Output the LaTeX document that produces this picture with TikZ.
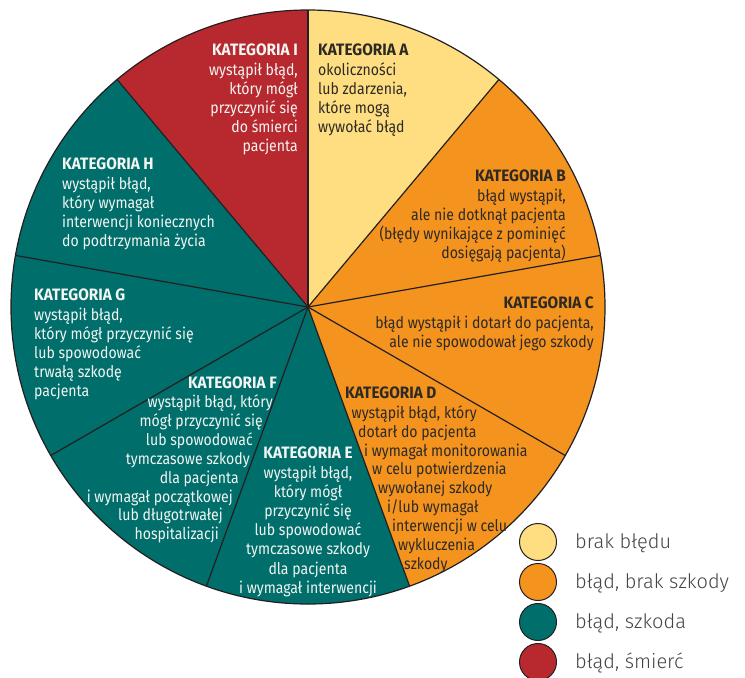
\documentclass[tikz,border=0pt]{standalone}
\usepackage{fontspec}
\setmainfont{Fira Sans}[FakeStretch=0.88]
\newfontfamily\hdfont{Fira Sans}[FakeStretch=0.93]
\newfontfamily\legendfont{Fira Sans Light}
\newcommand\hd[1]{{\hdfont\bfseries\fontsize{16.5}{19.2}\selectfont #1}}
\definecolor{catyel}{HTML}{FEDE80}
\definecolor{catora}{HTML}{F5931F}
\definecolor{cattea}{HTML}{006E6B}
\definecolor{catred}{HTML}{B8292F}
\definecolor{darktxt}{HTML}{2D2A26}
\definecolor{lighttxt}{HTML}{F2F5F2}
\definecolor{legtxt}{HTML}{444444}
\definecolor{rimcol}{HTML}{231F20}
\begin{document}
\begin{tikzpicture}[x=1pt,y=1pt,
  rim/.style={draw=rimcol,line width=1.2pt},
  spoke/.style={draw=rimcol,line width=1.2pt},
  body/.style={inner sep=0pt,font=\fontsize{16}{19.2}\selectfont},
  dk/.style={body,text=darktxt},
  lt/.style={body,text=lighttxt},
  legdot/.style={draw=rimcol,line width=1pt,circle,minimum size=37pt,inner sep=0pt},
  legtext/.style={inner sep=0pt,anchor=base west,text=legtxt,font=\legendfont\fontsize{20}{24}\selectfont}]
\useasboundingbox (0,0) rectangle (745,-678);
\coordinate (c) at (308,-307);
\foreach \a/\b/\col in {50/90/catyel,10/50/catora,-30/10/catora,-70/-30/catora,-110/-70/cattea,-150/-110/cattea,170/210/cattea,130/170/cattea,90/130/catred}
  \fill[\col] (c) -- ++(\a:297pt) arc[start angle=\a,end angle=\b,radius=297pt] -- cycle;
\foreach \a in {90,50,10,-30,-70,-110,-150,170,130}
  \draw[spoke] (c) -- ++(\a:297pt);
\draw[rim] (c) circle[radius=297pt];
% A
\node[dk,anchor=north west,align=left] (tA) at (318,-44) {\hd{KATEGORIA A}\\okoliczności\\lub zdarzenia,\\które mogą\\wywołać błąd};
% I
\node[lt,anchor=north east,align=right] (tI) at (298,-44) {\hd{KATEGORIA I}\\wystąpił błąd,\\który mógł\\przyczynić się\\do śmierci\\pacjenta};
% B
\node[dk,anchor=north east,align=right] (tB) at (566,-170) {\hd{KATEGORIA B}\\błąd wystąpił,\\ale nie dotknął pacjenta\hspace*{3pt}\\(błędy wynikające z pominięć\\dosięgają pacjenta)};
% C
\node[dk,anchor=north east,align=right] (tC) at (594,-297) {\hd{KATEGORIA C}\\błąd wystąpił i dotarł do pacjenta,\\ale nie spowodował jego szkody};
% H
\node[lt,anchor=north west,align=left] (tH) at (62,-158) {\hd{KATEGORIA H}\\wystąpił błąd,\\który wymagał\\interwencji koniecznych\\do podtrzymania życia};
% G
\node[lt,anchor=north west,align=left] (tG) at (34,-289) {\hd{KATEGORIA G}\\wystąpił błąd,\\który mógł przyczynić się\\lub spowodować\\trwałą szkodę\\pacjenta};
% E
\node[lt,anchor=north,align=center] (tE) at (308,-447) {\hd{KATEGORIA E}\\wystąpił błąd,\\który mógł\\przyczynić się\\lub spowodować\\tymczasowe szkody\\dla pacjenta\\i wymagał interwencji};
% D
\node[dk,anchor=base west] (tD0) at (345,-398.5) {\hd{KATEGORIA D}};
\node[dk,anchor=base west] (tD1) at (351.5,-418) {wystąpił błąd, który};
\node[dk,anchor=base west] (tD2) at (358,-437) {dotarł do pacjenta};
\node[dk,anchor=base west] (tD3) at (364,-456) {i wymagał monitorowania};
\node[dk,anchor=base west] (tD4) at (372,-474.5) {w celu potwierdzenia};
\node[dk,anchor=base west] (tD5) at (378,-493) {wywołanej szkody};
\node[dk,anchor=base west] (tD6) at (387,-512) {i/lub wymagał};
\node[dk,anchor=base west] (tD7) at (392,-531) {interwencji w celu};
\node[dk,anchor=base west] (tD8) at (398,-550) {wykluczenia};
\node[dk,anchor=base west] (tD9) at (404,-569) {szkody};
% F
\node[lt,anchor=base east] (tF0) at (277,-388.5) {\hd{KATEGORIA F}};
\node[lt,anchor=base east] (tF1) at (273,-407.5) {wystąpił błąd, który};
\node[lt,anchor=base east] (tF2) at (263,-426.5) {mógł przyczynić się};
\node[lt,anchor=base east] (tF3) at (253,-445.5) {lub spowodować};
\node[lt,anchor=base east] (tF4) at (250,-464.5) {tymczasowe szkody};
\node[lt,anchor=base east] (tF5) at (239,-483) {dla pacjenta};
\node[lt,anchor=base east] (tF6) at (233,-502) {i wymagał początkowej};
\node[lt,anchor=base east] (tF7) at (223,-520.5) {lub długotrwałej};
\node[lt,anchor=base east] (tF8) at (219,-539) {hospitalizacji};
% legend
\node[legdot,fill=catyel] (l1) at (538,-542) {};
\node[legdot,fill=catora] (l2) at (538,-582) {};
\node[legdot,fill=cattea] (l3) at (538,-622) {};
\node[legdot,fill=catred] (l4) at (538,-662) {};
\node[legtext] (lt1) at (575,-548.5) {brak błędu};
\node[legtext] (lt2) at (575,-588.5) {błąd, brak szkody};
\node[legtext] (lt3) at (575,-628.5) {błąd, szkoda};
\node[legtext] (lt4) at (575,-668.5) {błąd, śmierć};
\end{tikzpicture}
\end{document}
